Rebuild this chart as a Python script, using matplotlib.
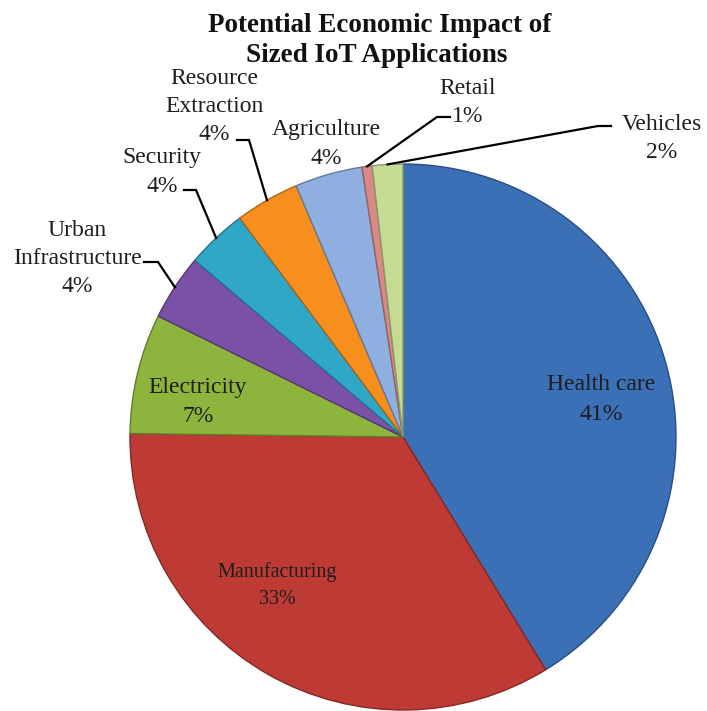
import matplotlib
matplotlib.use("Agg")
import matplotlib.pyplot as plt
import matplotlib.colors as mcolors
import numpy as np

# ---- data ----
categories = ["Health care", "Manufacturing", "Electricity", "Urban\nInfrastructure",
              "Security", "Resource\nExtraction", "Agriculture", "Retail", "Vehicles"]
shares = [41.25, 33.95, 7.1, 3.9, 3.6, 3.8, 4.0, 0.6, 1.8]   # share of total (%) as drawn
pct_labels = ["41%", "33%", "7%", "4%", "4%", "4%", "4%", "1%", "2%"]
title_lines = ["Potential Economic Impact of", "Sized IoT Applications"]

colors = ["#3B6FB6", "#BE3B35", "#8DB43C", "#7A51A6", "#31A7C8",
          "#F78F1E", "#8FAFE0", "#D98A86", "#C5DB94"]

W, H = 707, 711
fig = plt.figure(figsize=(W / 100, H / 100), dpi=100)
ax = fig.add_axes([0, 0, 1, 1])

CX, CY, R = 403, 437, 273          # pixel layout of the pie
def P(x, y):
    return (x, H - y)

def darker(c, f=0.75):
    r, g, b = mcolors.to_rgb(c)
    return (r * f, g * f, b * f)

wedges, _ = ax.pie(shares, colors=colors, startangle=90, counterclock=False,
                   center=P(CX, CY), radius=R,
                   wedgeprops=dict(linewidth=1.0))
for w, c in zip(wedges, colors):
    w.set_edgecolor(darker(c, 0.7))

ax.set_xlim(0, W)
ax.set_ylim(0, H)
ax.set_aspect("equal")
ax.axis("off")

serif = ["Liberation Serif", "DejaVu Serif"]

# title
for line, (tx, ty) in zip(title_lines, [(380, 25), (377, 56)]):
    ax.text(*P(tx, ty), line, ha="center", va="center", fontsize=19.5,
            fontweight="bold", family=serif, color="#111111")

# label layout: centre x, first line y, line spacing, font size
layout = [
    (601, 385, 30, 17),
    (277, 572, 27, 14.5),
    (198, 388, 29, 17),
    (77, 230, 28.5, 17),
    (162, 158, 29, 17),
    (214, 78, 28.5, 17),
    (326, 130, 28, 17),
    (468, 88, 29, 17),
    (662, 125, 27, 17),
]
for name, pct, (lx, ly, sp, fs) in zip(categories, pct_labels, layout):
    lines = name.split("\n") + [pct]
    for i, t in enumerate(lines):
        ax.text(*P(lx, ly + i * sp), t, ha="center", va="center",
                fontsize=fs, family=serif, color="#1e1e1e")

# leader lines: start point, elbow point (pixels) -> wedge edge midpoint
leaders = {
    5: ((237, 140), (249, 140)),
    4: ((184, 190), (196, 190)),
    3: ((144, 262), (158, 262)),
    7: ((450, 117), (437, 117)),
    8: ((611, 126), (598, 126)),
}
for idx, (s, e) in leaders.items():
    w = wedges[idx]
    th = np.deg2rad((w.theta1 + w.theta2) / 2)
    cx, cy = w.center
    ex, ey = cx + w.r * np.cos(th), cy + w.r * np.sin(th)
    xs = [P(*s)[0], P(*e)[0], ex]
    ys = [P(*s)[1], P(*e)[1], ey]
    ax.plot(xs, ys, color="black", lw=1.6, solid_joinstyle="miter")

fig.savefig("out.png", dpi=100, facecolor="white")
